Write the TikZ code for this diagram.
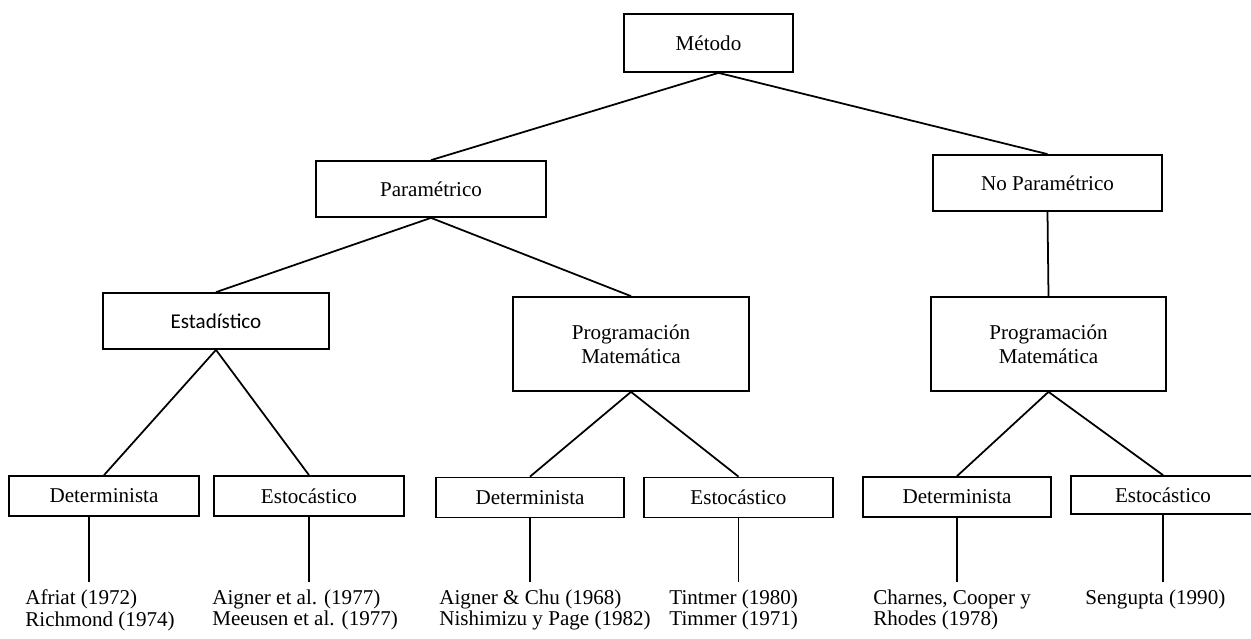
\documentclass[tikz,border=0pt]{standalone}
\usepackage{fontspec}
\setmainfont{Liberation Serif}
\newfontfamily\calibrifont{Carlito}

\begin{document}
\begin{tikzpicture}[
  x=0.02cm, y=-0.02cm,
  every node/.style={font=\fontsize{12}{13.7}\selectfont},
  box/.style={
    rectangle, draw=black, line width=1pt,
    minimum width=#1, minimum height=1.12cm, align=center, inner sep=2pt
  },
  small/.style={minimum height=0.8cm},
  leaf/.style={
    anchor=north west, align=left, inner xsep=0pt, inner ysep=4pt,
    font=\fontsize{12}{12.5}\selectfont
  },
  conn/.style={line width=1pt},
]
\useasboundingbox (0,0) rectangle (1251,639);

%% Level 0: root
\node[box=3.38cm, minimum height=1.16cm] (metodo) at (708.5,43) {Método};

%% Level 1
\node[box=4.6cm]  (param)   at (431,189)    {Paramétrico};
\node[box=4.58cm] (noparam) at (1047.5,183) {No Paramétrico};

%% Level 2
\node[box=4.52cm, font=\calibrifont\fontsize{12}{13.7}\selectfont] (estad) at (216,321) {Estadístico};
\node[box=4.72cm, minimum height=1.88cm] (progA) at (631,344)    {Programación\\Matemática};
\node[box=4.7cm,  minimum height=1.88cm] (progB) at (1048.5,344) {Programación\\Matemática};

%% Level 3
\node[box=3.8cm,  small] (detA) at (104,496)    {Determinista};
\node[box=3.8cm,  small] (stoA) at (309,496)    {Estocástico};
\node[box=3.76cm, small] (detB) at (530,497.5)  {Determinista};
\node[box=3.78cm, small] (stoB) at (738.5,497.5) {Estocástico};
\node[box=3.76cm, small] (detC) at (957,497)    {Determinista};
\node[box=3.68cm, minimum height=0.76cm] (stoC) at (1163,495) {Estocástico};

%% Authors
\node[leaf] (refA) at (25,582)   {Afriat (1972)\\Richmond (1974)};
\node[leaf] (refB) at (212,582)  {Aigner et al. (1977)\\Meeusen et al. (1977)};
\node[leaf] (refC) at (439,582)  {Aigner \& Chu (1968)\\Nishimizu y Page (1982)};
\node[leaf] (refD) at (669,582)  {Tintmer (1980)\\Timmer (1971)};
\node[leaf] (refE) at (873,582)  {Charnes, Cooper y\\Rhodes (1978)};
\node[leaf] (refF) at (1085,582) {Sengupta (1990)};

%% Connectors
\draw[conn] (param.north) -- ([xshift=0.2cm]metodo.south) -- (noparam.north);
\draw[conn] (noparam.south) -- (progB.north);
\draw[conn] (estad.north) -- (param.south) -- (progA.north);
\draw[conn] (detA.north) -- (estad.south) -- (stoA.north);
\draw[conn] (detB.north) -- (progA.south) -- (stoB.north);
\draw[conn] (detC.north) -- (progB.south) -- (stoC.north);

\draw[conn] ([xshift=-0.3cm]detA.south) -- ([xshift=-0.3cm]detA.south |- refA.north);
\draw[conn] (stoA.south) -- (stoA.south |- refB.north);
\draw[conn] (detB.south) -- (detB.south |- refC.north);
\draw[conn] (stoB.south) -- (stoB.south |- refD.north);
\draw[conn] (detC.south) -- (detC.south |- refE.north);
\draw[conn] (stoC.south) -- (stoC.south |- refF.north);

\end{tikzpicture}
\end{document}
